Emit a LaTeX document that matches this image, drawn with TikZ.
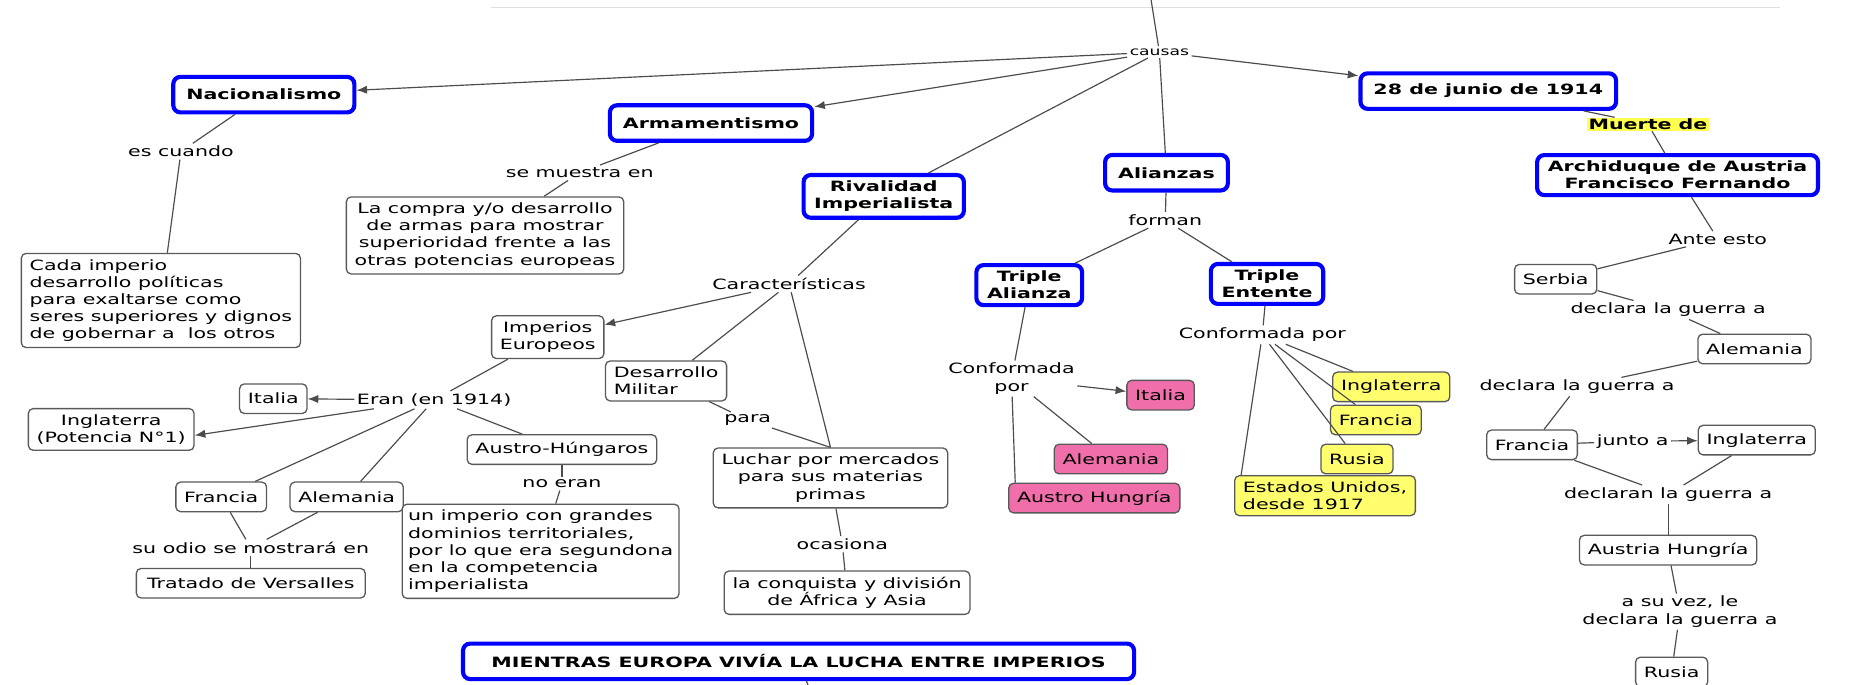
\documentclass[tikz,border=0pt]{standalone}
\usepackage{fontspec}
\setmainfont{DejaVu Sans}[FakeStretch=1.45]
\usetikzlibrary{arrows.meta}
\definecolor{mappink}{RGB}{240,110,170}
\definecolor{mapyellow}{RGB}{255,255,110}
\definecolor{markyellow}{RGB}{255,255,80}
\tikzset{
  mapbox/.style={draw=black!65, line width=1.1pt, rounded corners=4pt, fill=white,
    inner xsep=7pt, inner ysep=5pt, minimum height=25pt, align=center},
  causebox/.style={draw=blue, line width=3.5pt, rounded corners=6pt, fill=white,
    font=\bfseries, inner xsep=11pt, inner ysep=5pt, minimum height=30pt, align=center},
  pinkbox/.style={mapbox, fill=mappink},
  yellowbox/.style={mapbox, fill=mapyellow},
  linklabel/.style={inner sep=2pt, fill=white, align=center},
  maplink/.style={draw=black!70, line width=1pt},
  maparrow/.style={maplink, -{Latex[length=9pt,width=7pt]}},
}
\begin{document}
\fontsize{12}{14.5}\selectfont
\begin{tikzpicture}[x=1pt,y=-1pt]
    \useasboundingbox (0,0) rectangle (1568,579);
    \draw[black!12, line width=0.8pt] (415,6) -- (1505,6);

    \coordinate (topin) at (973,0);
    \node[linklabel, font=\fontsize{10}{12}\selectfont] (causas) at (980,44) {causas};

    \node[causebox] (nac) at (223,80) {Nacionalismo};
    \node[linklabel] (escuando) at (153,128) {es cuando};
    \node[mapbox, align=left] (cada) at (136,254) {Cada imperio\\desarrollo políticas\\para exaltarse como\\seres superiores y dignos\\de gobernar a\ \ los otros};

    \node[causebox] (arma) at (601,104) {Armamentismo};
    \node[linklabel] (semuestra) at (490,146) {se muestra en};
    \node[mapbox] (compra) at (410,199) {La compra y/o desarrollo\\de armas para mostrar\\superioridad frente a las\\otras potencias europeas};

    \node[causebox, inner xsep=9pt] (rival) at (747,166) {Rivalidad\\Imperialista};
    \node[linklabel] (carac) at (667,240) {Características};
    \node[mapbox] (imperios) at (463,285) {Imperios\\Europeos};
    \node[mapbox, align=left] (desmil) at (563,322) {Desarrollo\\Militar};
    \node[linklabel] (para) at (632,355) {para};
    \node[mapbox] (luchar) at (702,404) {Luchar por mercados\\para sus materias\\primas};
    \node[linklabel] (ocasiona) at (712,460) {ocasiona};
    \node[mapbox] (conquista) at (716,501) {la conquista y división\\de África y Asia};

    \node[linklabel] (eran) at (367,338) {Eran (en 1914)};
    \node[mapbox] (italia) at (231,337) {Italia};
    \node[mapbox] (inglat) at (94,363) {Inglaterra\\(Potencia N°1)};
    \node[mapbox] (francia) at (187,420) {Francia};
    \node[mapbox] (alemania) at (293,420) {Alemania};
    \node[mapbox] (austrohu) at (475,380) {Austro-Húngaros};
    \node[linklabel] (noeran) at (475,409) {no eran};
    \node[mapbox, align=left, inner xsep=5pt] (unimperio) at (457,466) {un imperio con grandes\\dominios territoriales,\\por lo que era segundona\\en la competencia\\imperialista};
    \node[linklabel] (suodio) at (212,463) {su odio se mostrará en};
    \node[mapbox, inner xsep=9pt] (versalles) at (212,493) {Tratado de Versalles};

    \node[causebox] (alianzas) at (986,146) {Alianzas};
    \node[linklabel] (forman) at (985,186) {forman};
    \node[causebox, inner xsep=9pt] (tripleal) at (870,241) {Triple\\Alianza};
    \node[causebox, inner xsep=9pt] (tripleen) at (1071,240) {Triple\\Entente};
    \node[linklabel] (confal) at (855,320) {Conformada\\por};
    \node[pinkbox] (italiap) at (981,334) {Italia};
    \node[pinkbox] (alemaniap) at (939,388) {Alemania};
    \node[pinkbox] (austrop) at (925,421) {Austro Hungría};
    \node[linklabel] (confen) at (1067,283) {Conformada por};
    \node[yellowbox] (inglaty) at (1176,327) {Inglaterra};
    \node[yellowbox] (franciay) at (1163,355) {Francia};
    \node[yellowbox] (rusiay) at (1147,388) {Rusia};
    \node[yellowbox, align=left] (eeuu) at (1120,419) {Estados Unidos,\\desde 1917};

    \node[causebox] (junio) at (1258,77) {28 de junio de 1914};
    \node[linklabel, fill=markyellow, inner sep=1pt, font=\bfseries] (muerte) at (1393,105) {Muerte de};
    \node[causebox, inner xsep=9pt] (archi) at (1418,148) {Archiduque de Austria\\Francisco Fernando};
    \node[linklabel] (ante) at (1452,202) {Ante esto};
    \node[mapbox] (serbia) at (1315,236) {Serbia};
    \node[linklabel] (declara1) at (1410,262) {declara la guerra a};
    \node[mapbox] (alemaniar) at (1483,295) {Alemania};
    \node[linklabel] (declara2) at (1333,327) {declara la guerra a};
    \node[mapbox] (franciar) at (1295,376) {Francia};
    \node[linklabel] (junto) at (1380,373) {junto a};
    \node[mapbox] (inglatr) at (1485,372) {Inglaterra};
    \node[linklabel] (declaran) at (1410,418) {declaran la guerra a};
    \node[mapbox] (austriar) at (1410,465) {Austria Hungría};
    \node[linklabel] (suvez) at (1420,517) {a su vez, le\\declara la guerra a};
    \node[mapbox] (rusiar) at (1413,568) {Rusia};

    \node[causebox, inner xsep=24pt] (mientras) at (675,559) {MIENTRAS EUROPA VIVÍA LA LUCHA ENTRE IMPERIOS};
    \coordinate (botout) at (683,579);

    \draw[maplink] (topin) -- (causas);
    \draw[maparrow] (causas) -- (nac);
    \draw[maparrow] (causas) -- (arma);
    \draw[maplink] (causas) -- (rival);
    \draw[maplink] (causas) -- (alianzas);
    \draw[maparrow] (causas) -- (junio);

    \draw[maplink] (nac) -- (escuando);
    \draw[maplink] (escuando) -- (cada);
    \draw[maplink] (arma) -- (semuestra);
    \draw[maplink] (semuestra) -- (compra);

    \draw[maplink] (rival) -- (carac);
    \draw[maparrow] (carac) -- (imperios);
    \draw[maplink] (carac) -- (desmil);
    \draw[maplink] (carac) -- (luchar.north);
    \draw[maplink] (desmil) -- (para);
    \draw[maplink] (para) -- (luchar.north);
    \draw[maplink] (luchar) -- (ocasiona);
    \draw[maplink] (ocasiona) -- (conquista);

    \draw[maplink] (imperios) -- (eran);
    \draw[maparrow] (eran) -- (italia);
    \draw[maparrow] (eran) -- ([yshift=-5pt]inglat.east);
    \draw[maplink] (eran) -- (francia);
    \draw[maplink] (eran) -- (alemania);
    \draw[maplink] (eran) -- (austrohu);
    \draw[maplink] (austrohu) -- (noeran);
    \draw[maplink] (noeran) -- (unimperio);
    \draw[maplink] (francia) -- (suodio);
    \draw[maplink] (alemania) -- (suodio);
    \draw[maplink] (suodio) -- (versalles);

    \draw[maplink] (alianzas) -- (forman);
    \draw[maplink] (forman) -- (tripleal);
    \draw[maplink] (forman) -- (tripleen);
    \draw[maplink] (tripleal) -- (confal);
    \draw[maparrow] (confal) -- (italiap);
    \draw[maplink] (confal) -- (alemaniap);
    \draw[maplink] (confal) -- ([xshift=6pt]austrop.north west);
    \draw[maplink] (tripleen) -- (confen);
    \draw[maplink] (confen) -- (inglaty);
    \draw[maplink] (confen) -- (franciay);
    \draw[maplink] (confen) -- (rusiay);
    \draw[maplink] (confen) -- ([xshift=6pt]eeuu.north west);

    \draw[maplink] (junio) -- (muerte);
    \draw[maplink] (muerte) -- (archi);
    \draw[maplink] (archi) -- (ante);
    \draw[maplink] (ante) -- (serbia);
    \draw[maplink] (serbia) -- (declara1);
    \draw[maplink] (declara1) -- (alemaniar);
    \draw[maplink] (alemaniar) -- (declara2);
    \draw[maplink] (declara2) -- (franciar);
    \draw[maplink] (franciar) -- (junto);
    \draw[maparrow] (junto) -- (inglatr);
    \draw[maplink] (franciar) -- (declaran);
    \draw[maplink] (inglatr) -- (declaran);
    \draw[maplink] (declaran) -- (austriar);
    \draw[maplink] (austriar) -- (suvez);
    \draw[maplink] (suvez) -- (rusiar);

    \draw[maplink] (mientras) -- (botout);
\end{tikzpicture}
\end{document}
